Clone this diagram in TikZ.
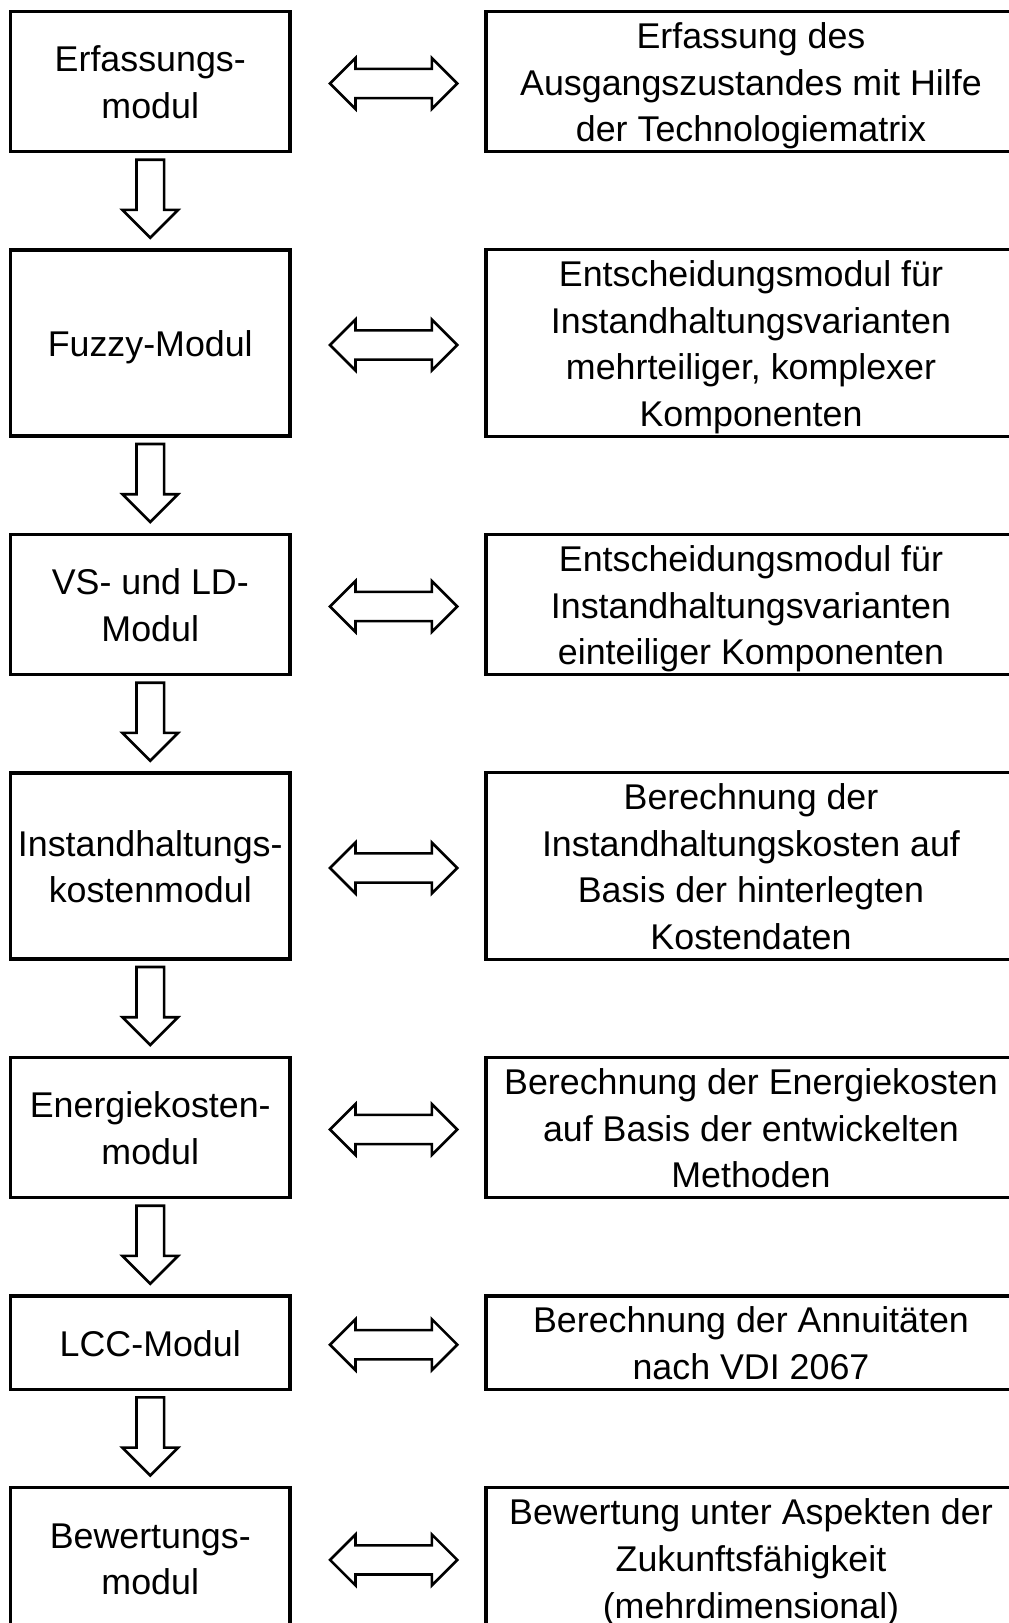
\documentclass[tikz,border=0pt]{standalone}
\usepackage{fontspec}
\setmainfont{Liberation Sans}
\usepackage{tikz}
\usetikzlibrary{shapes, positioning}

\newcommand{\linestrut}{\rule[-4.9pt]{0pt}{23.3pt}}

\tikzset{
    modbox/.style={rectangle, draw, line width=1.6pt, outer sep=0pt, align=center, inner sep=0pt, minimum width=139.75pt},
    infobox/.style={rectangle, draw, line width=1.6pt, outer sep=0pt, align=center, inner sep=0pt, minimum width=265pt},
    dblarrow/.style={double arrow, draw, line width=1.3pt, outer sep=0pt, inner sep=6.65pt, minimum height=63.65pt, double arrow head extend=5.45pt, double arrow tip angle=90},
    downarrow/.style={single arrow, draw, line width=1.3pt, outer sep=0pt, inner sep=6.25pt, minimum height=39pt, single arrow head extend=7pt, single arrow tip angle=90, shape border rotate=270}
}

\begin{document}
\begin{tikzpicture}[font=\fontsize{17.9pt}{23.3pt}\selectfont, node distance=49.15pt]
        \useasboundingbox (0,0) rectangle (504pt,-811.5pt);

        \node (erf) [modbox, minimum height=70.2pt, anchor=north west] at (5.25pt,-5.65pt) {\linestrut Erfassungs-\\modul\linestrut};
        \node (fuzzy) [modbox, minimum height=93pt, below=of erf] {\linestrut Fuzzy-Modul\linestrut};
        \node (vsld) [modbox, minimum height=70.2pt, below=of fuzzy] {\linestrut VS- und LD-\\Modul\linestrut};
        \node (ihk) [modbox, minimum height=93pt, below=of vsld] {\linestrut Instandhaltungs-\\kostenmodul\linestrut};
        \node (energie) [modbox, minimum height=70.2pt, below=of ihk] {\linestrut Energiekosten-\\modul\linestrut};
        \node (lcc) [modbox, minimum height=46.7pt, below=of energie] {\linestrut LCC-Modul\linestrut};
        \node (bew) [modbox, minimum height=70.2pt, below=of lcc] {\linestrut Bewertungs-\\modul\linestrut};

        \node (erfinfo) [infobox, minimum height=70.2pt, right=98pt of erf] {\linestrut Erfassung des\\Ausgangszustandes mit Hilfe\\der Technologiematrix\linestrut};
        \node (fuzzyinfo) [infobox, minimum height=93pt, right=98pt of fuzzy] {\linestrut Entscheidungsmodul für\\Instandhaltungsvarianten\\mehrteiliger, komplexer\\Komponenten\linestrut};
        \node (vsldinfo) [infobox, minimum height=70.2pt, right=98pt of vsld] {\linestrut Entscheidungsmodul für\\Instandhaltungsvarianten\\einteiliger Komponenten\linestrut};
        \node (ihkinfo) [infobox, minimum height=93pt, right=98pt of ihk] {\linestrut Berechnung der\\Instandhaltungskosten auf\\Basis der hinterlegten\\Kostendaten\linestrut};
        \node (energieinfo) [infobox, minimum height=70.2pt, right=98pt of energie] {\linestrut Berechnung der Energiekosten\\auf Basis der entwickelten\\Methoden\linestrut};
        \node (lccinfo) [infobox, minimum height=46.7pt, right=98pt of lcc] {\linestrut Berechnung der Annuitäten\\nach VDI 2067\linestrut};
        \node (bewinfo) [infobox, minimum height=70.2pt, right=98pt of bew] {\linestrut Bewertung unter Aspekten der\\Zukunftsfähigkeit\\(mehrdimensional)\linestrut};

        \node (erflink) [dblarrow, right=20pt of erf, yshift=-1pt] {};
        \node (fuzzylink) [dblarrow, right=20pt of fuzzy, yshift=-1pt] {};
        \node (vsldlink) [dblarrow, right=20pt of vsld, yshift=-1pt] {};
        \node (ihklink) [dblarrow, right=20pt of ihk, yshift=-1pt] {};
        \node (energielink) [dblarrow, right=20pt of energie, yshift=-1pt] {};
        \node (lcclink) [dblarrow, right=20pt of lcc, yshift=-1pt] {};
        \node (bewlink) [dblarrow, right=20pt of bew, yshift=-1pt] {};

        \node (step1) [downarrow, below=4pt of erf.south, anchor=tail] {};
        \node (step2) [downarrow, below=4pt of fuzzy.south, anchor=tail] {};
        \node (step3) [downarrow, below=4pt of vsld.south, anchor=tail] {};
        \node (step4) [downarrow, below=4pt of ihk.south, anchor=tail] {};
        \node (step5) [downarrow, below=4pt of energie.south, anchor=tail] {};
        \node (step6) [downarrow, below=4pt of lcc.south, anchor=tail] {};
    \end{tikzpicture}
\end{document}
